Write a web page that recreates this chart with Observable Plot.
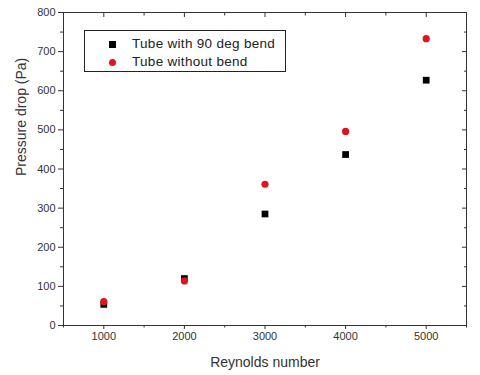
<!DOCTYPE html>
<html>
<head>
<meta charset="utf-8">
<script src="https://cdn.jsdelivr.net/npm/d3@7"></script>
<script src="https://cdn.jsdelivr.net/npm/@observablehq/plot@0.6"></script>
<style>
  html, body { margin: 0; padding: 0; background: #fff; }
  #wrap { position: relative; width: 480px; height: 375px; font-family: "Liberation Sans", Arial, sans-serif; }
  #legend { position: absolute; left: 84px; top: 30px; width: 202px; height: 42px; border: 1px solid #222; background: #fff; box-sizing: border-box; font-size: 13.5px; color: #222; letter-spacing: 0.3px; }
  .row { position: absolute; left: 0; height: 16px; line-height: 16px; white-space: nowrap; }
  .sym { position: absolute; left: 24px; top: 5px; width: 7px; height: 7px; }
  .lbl { position: absolute; left: 47px; top: 0; }
</style>
</head>
<body>
<div id="wrap"></div>
<script>
const reynolds = [1000, 2000, 3000, 4000, 5000];
const bendValues = [54, 120, 285, 437, 627];
const noBendValues = [61, 114, 361, 496, 733];
const seriesNames = ["Tube with 90 deg bend", "Tube without bend"];
const xTitle = "Reynolds number";
const yTitle = "Pressure drop (Pa)";
const xMajorTicks = [1000, 2000, 3000, 4000, 5000];
const xMinorTicks = [500, 1500, 2500, 3500, 4500, 5500];
const yMajorTicks = [0, 100, 200, 300, 400, 500, 600, 700, 800];
const yMinorTicks = [50, 150, 250, 350, 450, 550, 650, 750];

const bend = reynolds.map((x, i) => ({x, y: bendValues[i]}));
const noBend = reynolds.map((x, i) => ({x, y: noBendValues[i]}));

const axisColor = "#333";
const none = () => "";
const chart = Plot.plot({
  width: 480,
  height: 375,
  marginLeft: 63,
  marginRight: 14,
  marginTop: 12,
  marginBottom: 50,
  style: {fontFamily: "'Liberation Sans', Arial, sans-serif", fontSize: "11px", color: "#333", background: "#fff"},
  x: {domain: [500, 5500]},
  y: {domain: [0, 800]},
  marks: [
    Plot.frame({stroke: axisColor}),
    Plot.axisX({anchor: "bottom", ticks: xMajorTicks, tickSize: 4, tickPadding: 3, tickFormat: d => String(d), label: null, fontSize: 11}),
    Plot.axisX({anchor: "bottom", ticks: xMinorTicks, tickSize: 2.5, tickFormat: none, label: null}),
    Plot.axisX({anchor: "top", ticks: xMajorTicks, tickSize: -4, tickFormat: none, label: null}),
    Plot.axisX({anchor: "top", ticks: xMinorTicks, tickSize: -2.5, tickFormat: none, label: null}),
    Plot.axisY({anchor: "left", ticks: yMajorTicks, tickSize: 5, tickPadding: 3, tickFormat: d => String(d), label: null, fontSize: 11}),
    Plot.axisY({anchor: "left", ticks: yMinorTicks, tickSize: 3, tickFormat: none, label: null}),
    Plot.axisY({anchor: "right", ticks: yMajorTicks, tickSize: -5, tickFormat: none, label: null}),
    Plot.axisY({anchor: "right", ticks: yMinorTicks, tickSize: -3, tickFormat: none, label: null}),
    Plot.text([xTitle], {frameAnchor: "bottom", text: d => d, dy: 37, lineAnchor: "middle", fontSize: 14, fill: "#333"}),
    Plot.text([yTitle], {frameAnchor: "left", text: d => d, dx: -42, dy: 7, rotate: -90, lineAnchor: "middle", fontSize: 14, fill: "#333"}),
    Plot.dot(bend, {x: "x", y: "y", symbol: "square", r: 3.8, fill: "#000"}),
    Plot.dot(noBend, {x: "x", y: "y", symbol: "circle", r: 3.6, fill: "#e0141c"})
  ]
});
const wrap = document.getElementById("wrap");
wrap.appendChild(chart);

const legend = document.createElement("div");
legend.id = "legend";
const syms = [{bg: "#000", radius: "0"}, {bg: "#e0141c", radius: "50%"}];
seriesNames.forEach((name, i) => {
  const row = document.createElement("div");
  row.className = "row";
  row.style.top = (5 + i * 18) + "px";
  const s = document.createElement("span");
  s.className = "sym";
  s.style.background = syms[i].bg;
  s.style.borderRadius = syms[i].radius;
  const t = document.createElement("span");
  t.className = "lbl";
  t.textContent = name;
  row.appendChild(s);
  row.appendChild(t);
  legend.appendChild(row);
});
wrap.appendChild(legend);
</script>
</body>
</html>
